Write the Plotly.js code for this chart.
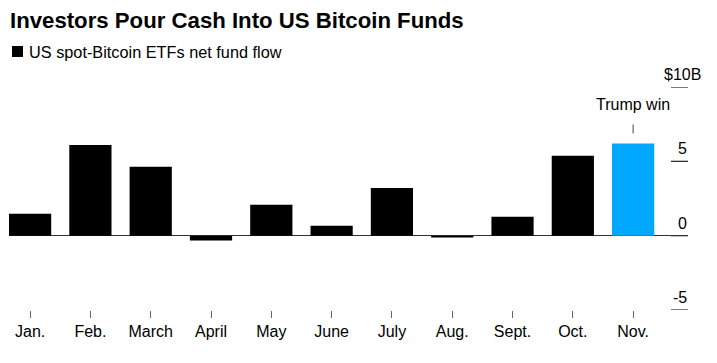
<!DOCTYPE html>
<html>
<head>
<meta charset="utf-8">
<script src="https://cdn.plot.ly/plotly-3.0.1.min.js"></script>
<style>html,body{margin:0;padding:0;background:#fff;}#chart{width:717px;height:363px;}</style>
</head>
<body>
<div id="chart"></div>
<script>
const months = ["Jan.", "Feb.", "March", "April", "May", "June", "July", "Aug.", "Sept.", "Oct.", "Nov."];
const netFlow = [1.48, 6.1, 4.64, -0.32, 2.08, 0.67, 3.2, -0.12, 1.28, 5.38, 6.2];
const barColors = ["#000000", "#000000", "#000000", "#000000", "#000000", "#000000", "#000000", "#000000", "#000000", "#000000", "#00a8ff"];
const yTickVals = [-5, 0, 5, 10];
const yTickText = ["-5", "0", "5", "$10B"];
const seriesName = "US spot-Bitcoin ETFs net fund flow";
const eventLabel = "Trump win";
const eventMonth = "Nov.";

const FONT = "Liberation Sans, Arial, sans-serif";
const W = 717, H = 363, ML = 9, MR = 29, MT = 87, MB = 53;
const PW = W - ML - MR, PH = H - MT - MB;
const px2x = p => (p - ML) / PW;
const py2y = p => 1 + (MT - p) / PH;

const annotations = yTickVals.map((v, i) => ({
  x: 1, xref: "paper", y: v, yref: "y",
  xanchor: "right", yanchor: "bottom",
  xshift: yTickText[i].length > 2 ? 15 : 1, yshift: 2,
  text: yTickText[i], showarrow: false,
  font: {family: FONT, size: 16, color: "#000"}
}));

annotations.push({
  x: eventMonth, xref: "x", y: netFlow[months.indexOf(eventMonth)], yref: "y",
  text: eventLabel, showarrow: true, arrowhead: 0, arrowwidth: 1.2, arrowcolor: "#666",
  ax: 0, ay: -39, standoff: 10, startstandoff: 10,
  font: {family: FONT, size: 16, color: "#000"}
});

annotations.push({
  x: px2x(27), xref: "paper", y: py2y(52), yref: "paper",
  text: seriesName, showarrow: false, xanchor: "left", yanchor: "middle",
  font: {family: FONT, size: 16.3, color: "#000"}
});

const shapes = [{
  type: "rect", xref: "paper", yref: "paper",
  x0: px2x(12), x1: px2x(23), y0: py2y(57), y1: py2y(46),
  fillcolor: "#000", line: {width: 0}
}];
yTickVals.forEach(v => {
  shapes.push({
    type: "line", xref: "paper", yref: "y",
    x0: px2x(671), x1: 1, y0: v, y1: v,
    line: {color: "#333", width: 1.3}
  });
});

const data = [{
  type: "bar",
  x: months,
  y: netFlow,
  name: seriesName,
  marker: {color: barColors, line: {width: 0}},
  showlegend: false,
  hoverinfo: "x+y"
}];

const layout = {
  width: W, height: H,
  margin: {l: ML, r: MR, t: MT, b: MB},
  paper_bgcolor: "#fff", plot_bgcolor: "#fff",
  bargap: 0.3,
  title: {
    text: "<b>Investors Pour Cash Into US Bitcoin Funds</b>",
    x: 10 / W, xanchor: "left", xref: "container",
    y: 1 - 20 / H, yanchor: "middle", yref: "container",
    font: {family: FONT, size: 22.2, color: "#000"}
  },
  xaxis: {
    type: "category",
    range: [-0.35, 10.91],
    showgrid: false, showline: false, zeroline: false,
    ticks: "outside", ticklen: 7, tickwidth: 1, tickcolor: "#666",
    tickfont: {family: FONT, size: 16, color: "#000"},
    fixedrange: true
  },
  yaxis: {
    range: [-5, 10],
    tickvals: yTickVals,
    showticklabels: false,
    ticks: "",
    showgrid: false, showline: false,
    zeroline: true, zerolinecolor: "#333", zerolinewidth: 1.3,
    fixedrange: true
  },
  shapes: shapes,
  annotations: annotations
};

Plotly.newPlot("chart", data, layout, {displayModeBar: false, staticPlot: true});
</script>
</body>
</html>
